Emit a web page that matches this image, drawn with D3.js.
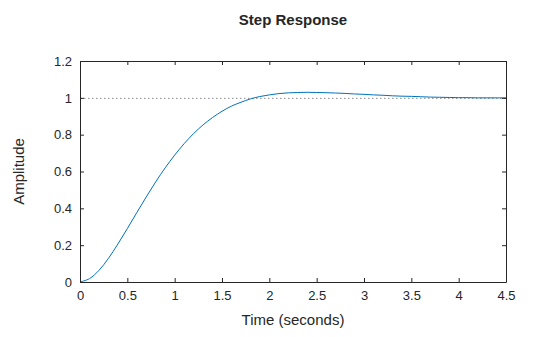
<!DOCTYPE html>
<html>
<head>
<meta charset="utf-8">
<script src="https://cdn.jsdelivr.net/npm/d3@7"></script>
<style>
  html, body { margin: 0; padding: 0; background: #fff; }
  svg { display: block; font-family: "Liberation Sans", Arial, sans-serif; }
</style>
</head>
<body>
<svg id="chart" width="560" height="337"></svg>
<script>
// Step response samples (time in seconds, amplitude)
const timeValues = [
  0.0, 0.1, 0.2, 0.3, 0.4, 0.5, 0.6, 0.7, 0.8, 0.9,
  1.0, 1.1, 1.2, 1.3, 1.4, 1.5, 1.6, 1.7, 1.8, 1.9,
  2.0, 2.1, 2.2, 2.3, 2.4, 2.5, 2.6, 2.7, 2.8, 2.9,
  3.0, 3.1, 3.2, 3.3, 3.4, 3.5, 3.6, 3.7, 3.8, 3.9,
  4.0, 4.1, 4.2, 4.3, 4.4, 4.5
];
const amplitudeValues = [
  0.000, 0.018, 0.063, 0.128, 0.206, 0.290, 0.377, 0.462, 0.544, 0.620,
  0.689, 0.751, 0.806, 0.853, 0.893, 0.927, 0.955, 0.976, 0.994, 1.007,
  1.016, 1.023, 1.027, 1.029, 1.030, 1.029, 1.028, 1.026, 1.024, 1.021,
  1.019, 1.016, 1.014, 1.011, 1.009, 1.008, 1.006, 1.004, 1.003, 1.002,
  1.001, 1.001, 1.000, 1.000, 1.000, 1.000
];
const steadyState = 1;
const xTicks = [0, 0.5, 1, 1.5, 2, 2.5, 3, 3.5, 4, 4.5];
const yTicks = [0, 0.2, 0.4, 0.6, 0.8, 1, 1.2];

const svg = d3.select("#chart");
const m = { left: 80, top: 61, right: 506, bottom: 282 };
const axisColor = "#262626";

const x = d3.scaleLinear().domain([0, 4.5]).range([m.left, m.right]);
const y = d3.scaleLinear().domain([0, 1.2]).range([m.bottom, m.top]);

const fmt = d => d3.format("~g")(d);

// Reference line at the steady-state value
svg.append("line")
  .attr("x1", x(0)).attr("x2", x(4.5))
  .attr("y1", y(steadyState) + 0.5).attr("y2", y(steadyState) + 0.5)
  .attr("stroke", "#8c8c8c").attr("stroke-width", 1)
  .attr("stroke-dasharray", "1.5,2.5");

// Response curve
const pts = timeValues.map((t, i) => [t, amplitudeValues[i]]);
svg.append("path")
  .datum(pts)
  .attr("fill", "none")
  .attr("stroke", "#0072BD")
  .attr("stroke-width", 1)
  .attr("d", d3.line().x(d => x(d[0])).y(d => y(d[1])).curve(d3.curveCatmullRom));

// Axes (ticks pointing inward, box on all sides)
function styleAxis(g) {
  g.select(".domain").attr("stroke", axisColor);
  g.selectAll(".tick line").attr("stroke", axisColor);
  g.selectAll(".tick text").attr("fill", axisColor).attr("font-size", 13);
}

svg.append("g")
  .attr("transform", `translate(0,${m.bottom})`)
  .call(d3.axisBottom(x).tickValues(xTicks).tickFormat(fmt).tickSizeInner(-4).tickSizeOuter(0).tickPadding(9))
  .call(styleAxis);

svg.append("g")
  .attr("transform", `translate(0,${m.top})`)
  .call(d3.axisTop(x).tickValues(xTicks).tickFormat("").tickSizeInner(-4).tickSizeOuter(0))
  .call(styleAxis);

svg.append("g")
  .attr("transform", `translate(${m.left},0)`)
  .call(d3.axisLeft(y).tickValues(yTicks).tickFormat(fmt).tickSizeInner(-4).tickSizeOuter(0).tickPadding(8))
  .call(styleAxis);

svg.append("g")
  .attr("transform", `translate(${m.right},0)`)
  .call(d3.axisRight(y).tickValues(yTicks).tickFormat("").tickSizeInner(-4).tickSizeOuter(0))
  .call(styleAxis);

// Titles
svg.append("text")
  .attr("x", (m.left + m.right) / 2).attr("y", 25)
  .attr("text-anchor", "middle")
  .attr("font-size", 15).attr("font-weight", "bold")
  .attr("fill", axisColor)
  .text("Step Response");

svg.append("text")
  .attr("x", (m.left + m.right) / 2).attr("y", 325)
  .attr("text-anchor", "middle")
  .attr("font-size", 15)
  .attr("fill", axisColor)
  .text("Time (seconds)");

svg.append("text")
  .attr("transform", `translate(24,${(m.top + m.bottom) / 2}) rotate(-90)`)
  .attr("text-anchor", "middle")
  .attr("font-size", 15)
  .attr("fill", axisColor)
  .text("Amplitude");
</script>
</body>
</html>
